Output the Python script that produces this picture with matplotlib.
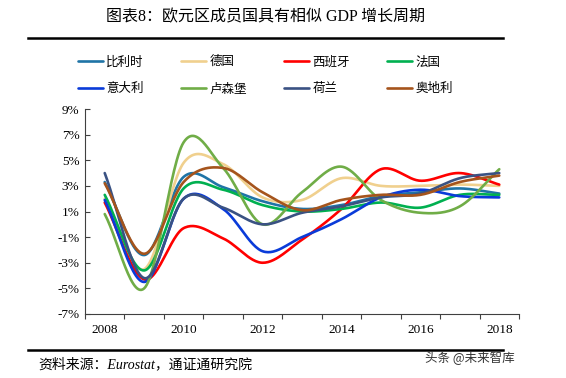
import numpy as np
import matplotlib
matplotlib.use("Agg")
import matplotlib.pyplot as plt
from matplotlib.lines import Line2D
from matplotlib.ticker import FixedLocator, FuncFormatter

plt.rcParams['font.family'] = ['Liberation Serif', 'Noto Sans CJK SC', 'DejaVu Sans']

years = [2008, 2009, 2010, 2011, 2012, 2013, 2014, 2015, 2016, 2017, 2018]
belgium = [3.3, -2.4, 3.7, 2.9, 1.8, 1.2, 1.5, 2.2, 2.5, 2.8, 2.4]
germany = [2.0, -3.5, 4.8, 4.7, 2.1, 1.9, 3.6, 3.0, 3.0, 3.1, 3.0]
spain = [1.7, -4.3, -0.3, -1.1, -3.0, -1.2, 1.2, 4.3, 3.4, 4.0, 3.1]
france = [2.3, -3.6, 2.8, 2.7, 1.5, 1.0, 1.2, 1.7, 1.3, 2.3, 2.3]
italy = [1.9, -4.5, 2.0, 1.2, -2.1, -1.0, 0.4, 2.1, 2.7, 2.2, 2.1]
luxembourg = [0.8, -5.0, 6.4, 4.4, 0.0, 2.5, 4.5, 1.9, 0.9, 1.4, 4.3]
netherlands = [4.0, -4.2, 2.0, 1.3, 0.0, 0.9, 1.4, 2.1, 2.4, 3.6, 4.0]
austria = [3.2, -2.3, 3.3, 4.4, 2.5, 1.1, 1.9, 2.3, 2.3, 3.3, 3.8]

names = ['比利时', '德国', '西班牙', '法国', '意大利', '卢森堡', '荷兰', '奥地利']
series = [belgium, germany, spain, france, italy, luxembourg, netherlands, austria]
colors = ['#1F74A6', '#F0D08E', '#FF0000', '#00B050', '#0A3BD9', '#70AD47', '#3A5283', '#A5541C']


def smooth(x, y, n=30):
    # Excel-style smoothed line: cubic Bezier through the points (Catmull-Rom tangents)
    x = np.asarray(x, float)
    y = np.asarray(y, float)
    px = np.concatenate([[2 * x[0] - x[1]], x, [2 * x[-1] - x[-2]]])
    py = np.concatenate([[2 * y[0] - y[1]], y, [2 * y[-1] - y[-2]]])
    xs, ys = [], []
    t = np.linspace(0, 1, n)
    for i in range(1, len(px) - 2):
        p0 = np.array([px[i], py[i]])
        p3 = np.array([px[i + 1], py[i + 1]])
        p1 = p0 + (np.array([px[i + 1], py[i + 1]]) - np.array([px[i - 1], py[i - 1]])) / 6
        p2 = p3 - (np.array([px[i + 2], py[i + 2]]) - np.array([px[i], py[i]])) / 6
        b = ((1 - t) ** 3)[:, None] * p0 + (3 * (1 - t) ** 2 * t)[:, None] * p1 \
            + (3 * (1 - t) * t ** 2)[:, None] * p2 + (t ** 3)[:, None] * p3
        xs.append(b[:, 0])
        ys.append(b[:, 1])
    return np.concatenate(xs), np.concatenate(ys)


fig = plt.figure(figsize=(5.66, 3.78), dpi=100)
ax = fig.add_axes([85 / 566, 1 - 314 / 378, 434 / 566, 205 / 378])

lines = []
for name, vals, c in zip(names, series, colors):
    sx, sy = smooth(years, vals)
    ln, = ax.plot(sx, sy, color=c, lw=1.9, label=name, solid_capstyle='round')
    lines.append(ln)

ax.set_xlim(2007.5, 2018.5)
ax.set_ylim(-7, 9)
ax.set_yticks(range(-7, 10, 2))
ax.yaxis.set_major_formatter(FuncFormatter(lambda v, p: f'{v:.0f}%'))
ax.set_xticks(years[::2])
ax.xaxis.set_minor_locator(FixedLocator(np.arange(2007.5, 2019, 1)))
ax.tick_params(axis='x', which='major', length=0, pad=7, labelsize=9.5)
ax.tick_params(axis='x', which='minor', length=3.5, direction='out', width=0.8, color='#404040')
ax.tick_params(axis='y', length=3.5, direction='in', width=0.8, color='#404040', pad=4, labelsize=9.5)
ax.spines['top'].set_visible(False)
ax.spines['right'].set_visible(False)
for s in ['left', 'bottom']:
    ax.spines[s].set_color('#404040')
    ax.spines[s].set_linewidth(0.8)

# legend fills column by column, so interleave the two rows
order = [0, 4, 1, 5, 2, 6, 3, 7]
fig.legend([lines[i] for i in order], [names[i] for i in order],
           loc='upper left', bbox_to_anchor=(78 / 566, 1 - 56 / 378), ncol=4, frameon=False,
           fontsize=9, handlelength=2.0, handletextpad=0.25, columnspacing=3.0,
           labelspacing=1.2, borderpad=0, borderaxespad=0)

fig.text(0.47, 1 - 17 / 378, '图表8：欧元区成员国具有相似 GDP 增长周期', ha='center', va='center',
         fontsize=11.5)
fig.add_artist(Line2D([28 / 566, 503 / 566], [1 - 38 / 378] * 2, color='black', lw=1.8))
fig.add_artist(Line2D([28 / 566, 503 / 566], [1 - 350 / 378] * 2, color='black', lw=1.8))
fig.text(38 / 566, 1 - 364 / 378, '资料来源：Eurostat，通证通研究院', ha='left', va='center',
         fontsize=10, style='italic')
fig.text(515 / 566, 1 - 357 / 378, '头条 @未来智库', ha='right', va='center', fontsize=9,
         color='#333333', family=['Noto Sans CJK SC', 'DejaVu Sans'])

fig.savefig('out.png', dpi=100)
